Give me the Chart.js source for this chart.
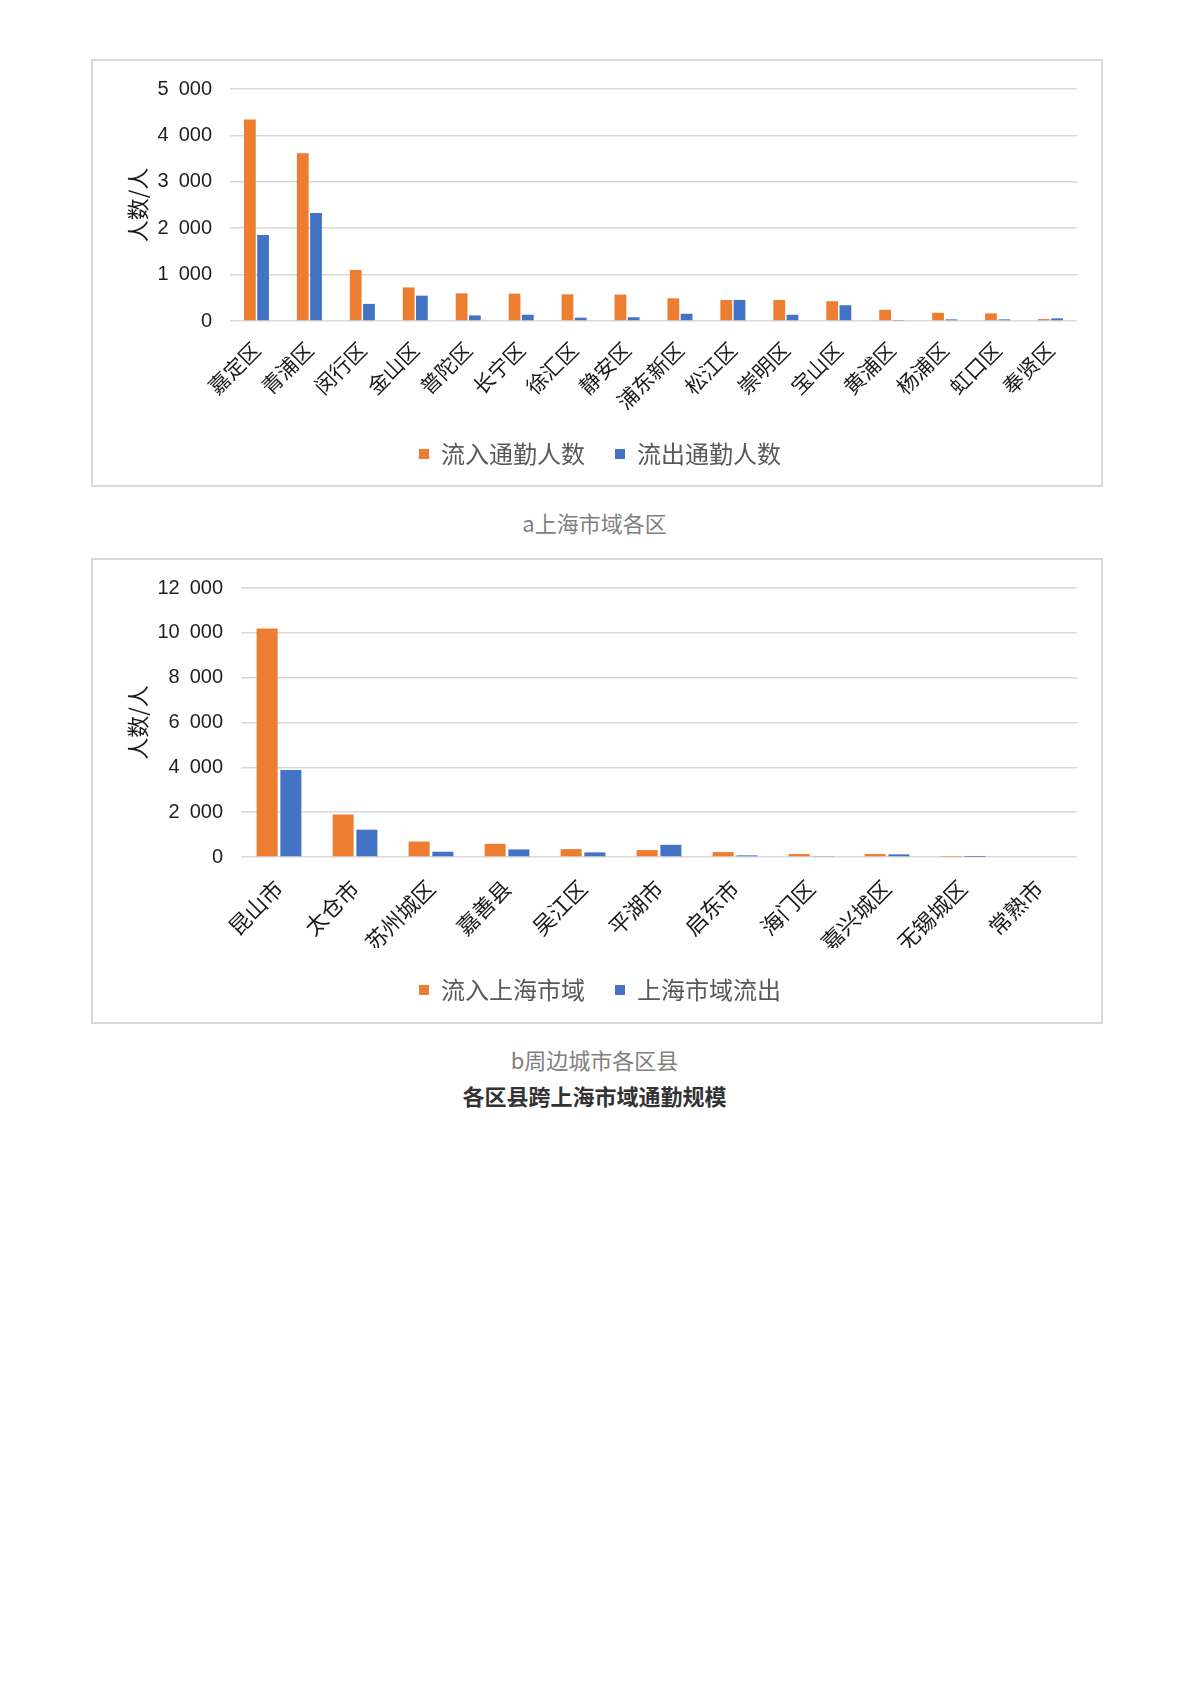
<!DOCTYPE html>
<html>
<head>
<meta charset="utf-8">
<script src="https://cdn.jsdelivr.net/npm/chart.js@4.4.1/dist/chart.umd.min.js"></script>
<style>
  body { margin: 0; background: #fff; width: 1189px; height: 1683px; position: relative; font-family: "Noto Sans CJK SC", sans-serif; }
  .box { position: absolute; left: 91px; width: 1012px; }
  .frame { position: absolute; inset: 0; border: 2px solid #d9d9d9; box-sizing: border-box; pointer-events: none; }
  .cap { position: absolute; left: 0; width: 1189px; text-align: center; font-size: 22px; line-height: 26px; }
</style>
</head>
<body>
<div class="box" style="top:59px;height:428px">
  <canvas id="chartA" width="1012" height="428"></canvas>
  <div class="frame"></div>
</div>
<div class="cap" style="top:509px;color:#808080">a上海市域各区</div>

<div class="box" style="top:558px;height:466px">
  <canvas id="chartB" width="1012" height="466"></canvas>
  <div class="frame"></div>
</div>
<div class="cap" style="top:1046px;color:#808080">b周边城市各区县</div>
<div class="cap" style="top:1082px;color:#333;font-weight:bold">各区县跨上海市域通勤规模</div>

<script>
// a 上海市域各区
const districts = ['嘉定区', '青浦区', '闵行区', '金山区', '普陀区', '长宁区', '徐汇区', '静安区',
    '浦东新区', '松江区', '崇明区', '宝山区', '黄浦区', '杨浦区', '虹口区', '奉贤区']
const inflowA = [4340, 3617, 1099, 723, 596, 589, 574, 570, 489, 454, 454, 426, 241, 177, 163, 42]
const outflowA = [1851, 2326, 369, 546, 121, 135, 71, 80, 156, 454, 135, 340, 10, 35, 35, 57]

// b 周边城市各区县
const cities = ['昆山市', '太仓市', '苏州城区', '嘉善县', '吴江区', '平湖市', '启东市', '海门区',
    '嘉兴城区', '无锡城区', '常熟市']
const inflowB = [10191, 1894, 690, 587, 352, 308, 220, 132, 132, 15, 0]
const outflowB = [3877, 1219, 235, 338, 206, 543, 73, 44, 117, 3, 0]

const ORANGE = '#ED7D31'
const BLUE = '#4472C4'

Chart.defaults.font.family = '"Liberation Sans", "Noto Sans CJK SC", sans-serif'
Chart.defaults.animation = false

const fmt = (v) => String(v).replace(/\B(?=(\d{3})+(?!\d))/g, '\u2002')

const makeChart = (id, labels, inflow, outflow, names, cfg) => {
    const el = document.getElementById(id)
    return new Chart(el, {
        type: 'bar',
        data: {
            labels: labels,
            datasets: [
                { label: names[0], data: inflow, backgroundColor: ORANGE, borderWidth: 0,
                  barPercentage: cfg.barPct, categoryPercentage: cfg.catPct },
                { label: names[1], data: outflow, backgroundColor: BLUE, borderWidth: 0,
                  barPercentage: cfg.barPct, categoryPercentage: cfg.catPct }
            ]
        },
        options: {
            responsive: false,
            devicePixelRatio: 1,
            // left padding shifts the legend centre to where the original sits
            layout: { padding: { top: 27, right: 26, bottom: cfg.padBottom, left: 32 } },
            plugins: {
                tooltip: { enabled: false },
                legend: {
                    position: 'bottom',
                    labels: {
                        boxWidth: 10, boxHeight: 10, padding: 30,
                        color: '#595959',
                        font: { size: 24, family: '"Noto Sans CJK SC", sans-serif' }
                    }
                }
            },
            scales: {
                x: {
                    grid: { display: false },
                    border: { display: false },
                    ticks: {
                        maxRotation: 45, minRotation: 45, padding: cfg.xPad,
                        color: '#1a1a1a',
                        font: { size: cfg.xFont, family: '"Noto Sans CJK SC", sans-serif' }
                    },
                    afterFit: (scale) => { scale.height = cfg.xHeight }
                },
                y: {
                    min: 0, max: cfg.max,
                    grid: { color: '#d9d9d9', lineWidth: 1.5, drawTicks: false },
                    border: { display: false },
                    ticks: {
                        stepSize: cfg.step, padding: 18, color: '#1f1f1f',
                        font: { size: 20 },
                        callback: (v) => fmt(v)
                    },
                    title: {
                        display: true, text: '人数/人', color: '#1a1a1a',
                        padding: { top: 1, bottom: 0 },
                        font: { size: 22, family: '"Noto Sans CJK SC", sans-serif' }
                    },
                    afterFit: (scale) => { scale.width = cfg.yWidth }
                }
            }
        }
    })
}

makeChart('chartA', districts, inflowA, outflowA, ['流入通勤人数', '流出通勤人数'], {
    barPct: 0.89, catPct: 0.5, padBottom: 11, xHeight: 91, yWidth: 107,
    max: 5000, step: 1000, xFont: 21, xPad: 8
})

makeChart('chartB', cities, inflowB, outflowB, ['流入上海市域', '上海市域流出'], {
    barPct: 0.885, catPct: 0.625, padBottom: 12, xHeight: 91, yWidth: 118,
    max: 12000, step: 2000, xFont: 22, xPad: 10
})
</script>
</body>
</html>
